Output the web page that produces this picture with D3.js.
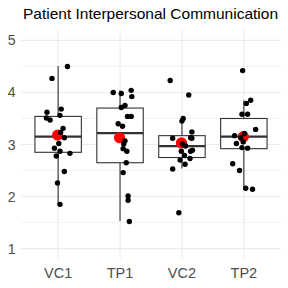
<!DOCTYPE html>
<html>
<head>
<meta charset="utf-8">
<script src="https://cdn.jsdelivr.net/npm/d3@7"></script>
<style>
  body { margin: 0; background: #fff; }
  text { font-family: "Liberation Sans", Arial, sans-serif; }
</style>
</head>
<body>
<div id="chart"></div>
<script>
// categories and per-group values
const groups = ["VC1", "TP1", "VC2", "TP2"];

const vc1 = [4.50, 4.27, 3.68, 3.62, 3.56, 3.51, 3.47, 3.31, 3.23, 3.13, 3.02, 2.93, 2.87, 2.78, 2.83, 2.48, 2.26, 1.85];
const tp1 = [4.00, 3.98, 4.04, 3.92, 3.75, 3.71, 3.54, 3.54, 3.40, 3.35, 3.07, 3.01, 2.92, 2.87, 2.65, 2.46, 2.01, 1.93, 1.52];
const vc2 = [4.23, 3.95, 3.50, 3.45, 3.24, 3.12, 3.13, 3.12, 3.01, 2.97, 2.89, 2.87, 2.87, 2.79, 2.73, 2.70, 2.62, 2.53, 1.69];
const tp2 = [4.42, 3.85, 3.79, 3.58, 3.58, 3.29, 3.17, 3.21, 3.13, 3.05, 3.02, 2.94, 2.93, 2.63, 2.50, 2.16, 2.14];

// horizontal jitter of each point, in category units
const vc1Jit = [0.15, -0.10, 0.05, -0.18, 0.03, -0.19, -0.13, 0.08, 0.04, 0.10, 0.01, -0.06, 0.03, -0.03, 0.19, 0.10, -0.01, 0.03];
const tp1Jit = [-0.11, 0.02, 0.18, 0.19, 0.08, 0.02, 0.12, 0.18, -0.03, 0.04, 0.08, 0.06, 0.05, 0.11, 0.10, 0.05, 0.13, 0.13, 0.15];
const vc2Jit = [-0.19, 0.11, 0.02, 0.00, 0.16, -0.15, 0.14, 0.16, 0.01, 0.06, 0.17, -0.01, 0.14, 0.04, 0.13, -0.03, 0.05, -0.15, -0.05];
const tp2Jit = [-0.02, 0.11, 0.04, -0.03, 0.06, 0.19, -0.15, 0.01, -0.05, -0.01, -0.12, -0.03, 0.06, -0.18, -0.07, 0.03, 0.14];

// box statistics
const lowWhisker = [1.85, 1.53, 2.54, 2.13];
const q1 = [2.85, 2.65, 2.75, 2.92];
const median = [3.15, 3.22, 2.97, 3.15];
const q3 = [3.54, 3.70, 3.17, 3.50];
const highWhisker = [4.51, 4.04, 3.50, 3.85];
const means = [3.18, 3.13, 3.03, 3.15];

const yTicks = [1, 2, 3, 4, 5];
const yMinor = [1.5, 2.5, 3.5, 4.5];

const width = 288, height = 288;
const margin = { top: 30, right: 7, bottom: 29, left: 21 };

const svg = d3.select("#chart").append("svg")
  .attr("width", width)
  .attr("height", height);

const x = d3.scalePoint()
  .domain(groups)
  .range([margin.left, width - margin.right])
  .padding(0.6);

const y = d3.scaleLinear()
  .domain([0.8, 5.2])
  .range([height - margin.bottom, margin.top]);

const step = x.step();

// grid
const grid = svg.append("g");
grid.selectAll(".minor").data(yMinor).join("line")
  .attr("x1", margin.left).attr("x2", width - margin.right)
  .attr("y1", d => y(d)).attr("y2", d => y(d))
  .attr("stroke", "#f0f0f0").attr("stroke-width", 0.8);
grid.selectAll(".major").data(yTicks).join("line")
  .attr("x1", margin.left).attr("x2", width - margin.right)
  .attr("y1", d => y(d)).attr("y2", d => y(d))
  .attr("stroke", "#ebebeb").attr("stroke-width", 1.1);
grid.selectAll(".vmajor").data(groups).join("line")
  .attr("x1", d => x(d)).attr("x2", d => x(d))
  .attr("y1", margin.top).attr("y2", height - margin.bottom)
  .attr("stroke", "#ebebeb").attr("stroke-width", 1.1);

// axis labels
svg.append("g").selectAll("text").data(yTicks).join("text")
  .attr("x", 15.5).attr("y", d => y(d))
  .attr("text-anchor", "end").attr("dominant-baseline", "central")
  .attr("fill", "#4d4d4d").style("font-size", "14px")
  .text(d => d);

svg.append("g").selectAll("text").data(groups).join("text")
  .attr("x", d => x(d)).attr("y", 278.3)
  .attr("text-anchor", "middle")
  .attr("fill", "#4d4d4d").style("font-size", "14.5px")
  .text(d => d);

// boxplots
const boxW = step * 0.75;
const boxes = svg.append("g").selectAll("g").data(groups).join("g");
boxes.append("line")
  .attr("x1", d => x(d)).attr("x2", d => x(d))
  .attr("y1", (d, i) => y(highWhisker[i])).attr("y2", (d, i) => y(lowWhisker[i]))
  .attr("stroke", "#333").attr("stroke-width", 1.1);
boxes.append("rect")
  .attr("x", d => x(d) - boxW / 2).attr("width", boxW)
  .attr("y", (d, i) => y(q3[i]))
  .attr("height", (d, i) => y(q1[i]) - y(q3[i]))
  .attr("fill", "#fff").attr("stroke", "#333").attr("stroke-width", 1.1);
boxes.append("line")
  .attr("x1", d => x(d) - boxW / 2).attr("x2", d => x(d) + boxW / 2)
  .attr("y1", (d, i) => y(median[i])).attr("y2", (d, i) => y(median[i]))
  .attr("stroke", "#333").attr("stroke-width", 2.2);

// means
svg.append("g").selectAll("circle").data(groups).join("circle")
  .attr("cx", d => x(d) - 0.5).attr("cy", (d, i) => y(means[i]))
  .attr("r", 5.6).attr("fill", "#ff0000");

// jittered points
const values = [vc1, tp1, vc2, tp2];
const jitters = [vc1Jit, tp1Jit, vc2Jit, tp2Jit];
const pts = [];
groups.forEach((g, gi) => {
  values[gi].forEach((v, j) => pts.push({ g, v, dx: jitters[gi][j] }));
});
svg.append("g").selectAll("circle").data(pts).join("circle")
  .attr("cx", d => x(d.g) + d.dx * step)
  .attr("cy", d => y(d.v))
  .attr("r", 2.7).attr("fill", "#000");

// title
svg.append("text")
  .attr("x", 23).attr("y", 19.3)
  .attr("fill", "#000").style("font-size", "15px")
  .attr("textLength", 255).attr("lengthAdjust", "spacingAndGlyphs")
  .text("Patient Interpersonal Communication");
</script>
</body>
</html>
